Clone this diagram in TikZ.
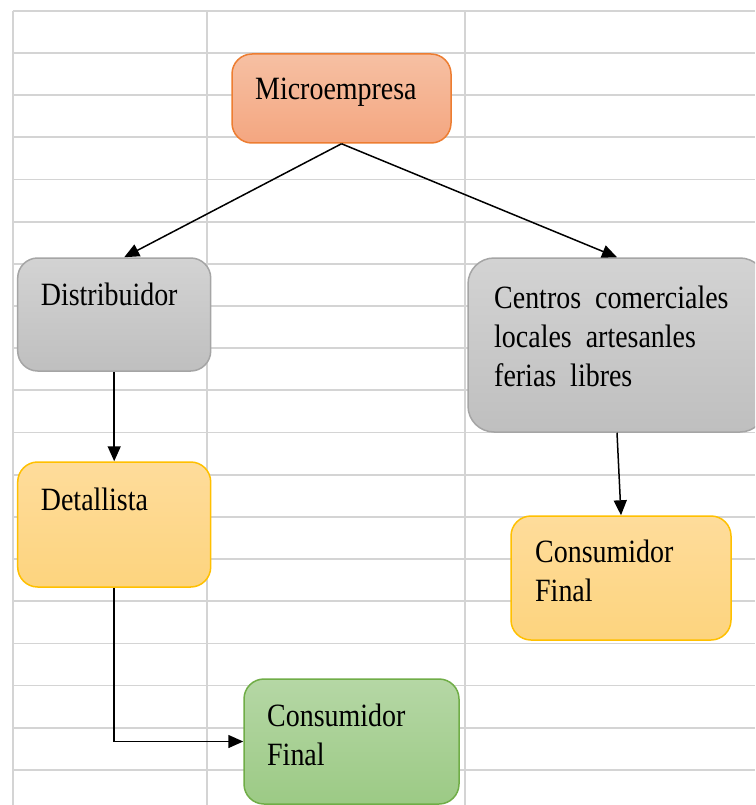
\documentclass[tikz,border=0pt]{standalone}
\usepackage{fontspec}
\setmainfont{Liberation Serif}[FakeStretch=0.86]
\usetikzlibrary{arrows.meta,calc,positioning}
\definecolor{rejilla}{HTML}{D4D4D4}
\definecolor{naranjaborde}{HTML}{ED7D31}
\definecolor{naranjaarriba}{HTML}{F6C0A3}
\definecolor{naranjaabajo}{HTML}{F4A680}
\definecolor{grisborde}{HTML}{A5A5A5}
\definecolor{grisarriba}{HTML}{D3D3D3}
\definecolor{grisabajo}{HTML}{BFBFBF}
\definecolor{amarilloborde}{HTML}{FFC000}
\definecolor{amarilloarriba}{HTML}{FEDC9B}
\definecolor{amarilloabajo}{HTML}{FDD47E}
\definecolor{verdeborde}{HTML}{70AD47}
\definecolor{verdearriba}{HTML}{B5D7A5}
\definecolor{verdeabajo}{HTML}{9CCA85}
\tikzset{>={Triangle[length=15pt,width=13pt]}}
\tikzset{caja/.style={rectangle,rounded corners=20pt,line width=1.5pt},
  texto/.style={anchor=base west,inner sep=0pt,align=left,font=\fontsize{32.5}{39}\selectfont}}

\begin{document}
\begin{tikzpicture}[x=1pt,y=-1pt]
\clip (0,0) rectangle (755,805);
\fill [white] (0,0) rectangle (755,805);
\foreach \k in {0,...,18}
  \draw [rejilla,line width=1.8pt] (12.7,10.7+42.18*\k) -- (755,10.7+42.18*\k);
\foreach \x in {12.7,207,465}
  \draw [rejilla,line width=1.8pt] (\x,10.7) -- (\x,805);

\node [caja,draw=naranjaborde,top color=naranjaarriba,bottom color=naranjaabajo,minimum width=219pt,minimum height=89pt] (micro) at (341.5,98.5) {};
\node [caja,draw=grisborde,top color=grisarriba,bottom color=grisabajo,minimum width=193pt,minimum height=113pt] (dist) at (114.2,314.5) {};
\node [caja,draw=grisborde,top color=grisarriba,bottom color=grisabajo,minimum width=298pt,minimum height=174pt,rounded corners=26pt] (centros) at (617,345) {};
\node [caja,draw=amarilloborde,top color=amarilloarriba,bottom color=amarilloabajo,minimum width=193pt,minimum height=125pt] (detal) at (114.2,524.5) {};
\node [caja,draw=amarilloborde,top color=amarilloarriba,bottom color=amarilloabajo,minimum width=220pt,minimum height=124pt] (consA) at (621,578) {};
\node [caja,draw=verdeborde,top color=verdearriba,bottom color=verdeabajo,minimum width=215pt,minimum height=125pt] (consB) at (351.5,741.5) {};

% base west = baseline of the last line
\node [texto] (tmicro) at (255,100) {Microempresa};
\node [texto] (tdist) at (40.7,305) {Distribuidor};
\node [texto] (tcentros) at (494,386) {Centros~ comerciales\\locales~ artesanles\\ferias~ libres};
\node [texto] (tdetal) at (40.7,510) {Detallista};
\node [texto] (tconsA) at (535,601) {Consumidor\\Final};
\node [texto] (tconsB) at (267,765) {Consumidor\\Final};

\draw [->,line width=1.5pt] (micro.south) -- ([xshift=10pt]dist.north);
\draw [->,line width=1.5pt] (micro.south) -- (centros.north);
\draw [->,line width=1.5pt] (dist.south) -- (detal.north);
\draw [->,line width=1.5pt] (detal.south) |- (consB.west);
\draw [->,line width=1.5pt] (centros.south) -- (consA.north);
\end{tikzpicture}
\end{document}
